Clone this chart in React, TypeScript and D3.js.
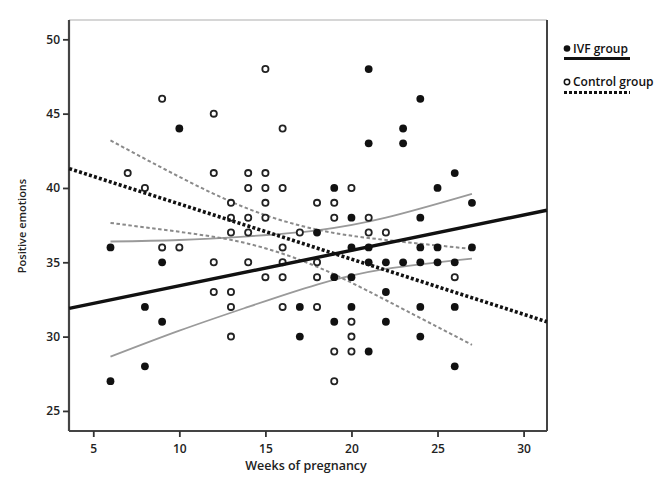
import React, { useEffect, useRef } from 'react';
import * as d3 from 'd3';

// IVF group (filled dots)
const ivfWeeks = [6, 6, 8, 8, 9, 9, 10, 17, 17, 18, 19, 19, 19, 20, 20, 20, 20, 21, 21, 21, 21, 21, 22, 22, 22, 23, 23, 23, 24, 24, 24, 24, 24, 24, 25, 25, 25, 26, 26, 26, 26, 27, 27];
const ivfScores = [36, 27, 32, 28, 35, 31, 44, 32, 30, 37, 40, 34, 31, 38, 36, 34, 32, 48, 43, 36, 35, 29, 35, 33, 31, 44, 43, 35, 46, 38, 36, 35, 32, 30, 40, 36, 35, 41, 35, 32, 28, 39, 36];

// control group (open dots)
const controlWeeks = [7, 8, 9, 9, 10, 12, 12, 12, 12, 13, 13, 13, 13, 13, 13, 14, 14, 14, 14, 14, 15, 15, 15, 15, 15, 15, 16, 16, 16, 16, 16, 16, 17, 18, 18, 18, 18, 19, 19, 19, 19, 20, 20, 20, 20, 21, 21, 22, 26];
const controlScores = [41, 40, 46, 36, 36, 45, 41, 35, 33, 39, 38, 37, 33, 32, 30, 41, 40, 38, 37, 35, 48, 41, 40, 39, 38, 34, 44, 40, 36, 35, 34, 32, 37, 39, 35, 34, 32, 39, 38, 29, 27, 40, 31, 30, 29, 38, 37, 37, 34];

// fit lines, read at the plot edges
const fitWeeks = [3.6, 31.35];
const ivfFit = [31.9, 38.5];
const controlFit = [41.3, 31.0];

// confidence bands
const bandWeeks = [6, 10, 14, 18, 22, 27];
const ivfUpper = [36.4, 36.5, 36.75, 37.15, 38.0, 39.6];
const ivfLower = [28.65, 30.4, 32.0, 33.5, 34.55, 35.25];
const controlUpper = [43.2, 40.75, 38.6, 37.2, 36.5, 35.9];
const controlLower = [37.65, 37.05, 36.25, 34.7, 32.45, 29.45];

const xTicks = [5, 10, 15, 20, 25, 30];
const yTicks = [25, 30, 35, 40, 45, 50];

const font = '"Open Sans", "DejaVu Sans", sans-serif';

const App = () => {
  const svgRef = useRef<SVGSVGElement>(null);

  useEffect(() => {
    const svg = d3.select(svgRef.current);
    svg.selectAll('*').remove();

    const left = 69, right = 547, top = 20, bottom = 431;
    const x = d3.scaleLinear().domain([3.59, 31.36]).range([left, right]);
    const y = d3.scaleLinear().domain([23.65, 51.3]).range([bottom, top]);

    // frame
    svg.append('line').attr('x1', left).attr('x2', right).attr('y1', top).attr('y2', top)
      .attr('stroke', '#c8c8c8').attr('stroke-width', 1.5);
    svg.append('line').attr('x1', right).attr('x2', right).attr('y1', top).attr('y2', bottom)
      .attr('stroke', '#444').attr('stroke-width', 2);

    // axes
    const xAxis = svg.append('g')
      .attr('transform', `translate(0,${bottom})`)
      .call(d3.axisBottom(x).tickValues(xTicks).tickSize(6).tickSizeOuter(0));
    const yAxis = svg.append('g')
      .attr('transform', `translate(${left},0)`)
      .call(d3.axisLeft(y).tickValues(yTicks).tickSize(6).tickSizeOuter(0));
    [xAxis, yAxis].forEach(a => {
      a.select('.domain').attr('stroke', '#444').attr('stroke-width', 2.2);
      a.selectAll('.tick line').attr('stroke', '#333').attr('stroke-width', 1.8);
      a.selectAll('.tick text')
        .attr('fill', '#222')
        .style('font-family', font)
        .style('font-size', '12px')
        .style('font-weight', 600);
    });
    xAxis.selectAll('.tick text').attr('dy', '1.1em');
    xAxis.select('.domain').attr('d', `M${left},0H${right}`);
    yAxis.select('.domain').attr('d', `M0,${top}V${bottom}`);

    // axis titles
    svg.append('text')
      .attr('x', 306).attr('y', 470)
      .attr('text-anchor', 'middle')
      .style('font-family', font).style('font-size', '12.5px').style('font-weight', 600)
      .attr('fill', '#222')
      .text('Weeks of pregnancy');
    svg.append('text')
      .attr('transform', 'translate(26,226) rotate(-90)')
      .attr('text-anchor', 'middle')
      .style('font-family', font).style('font-size', '11px').style('font-weight', 600)
      .attr('fill', '#222')
      .text('Positive emotions');

    const band = d3.line<number>()
      .x((_, i) => x(bandWeeks[i]))
      .y(d => y(d))
      .curve(d3.curveNatural);

    // IVF confidence band (grey solid)
    [ivfUpper, ivfLower].forEach(vals => {
      svg.append('path').datum(vals)
        .attr('fill', 'none').attr('stroke', '#9a9a9a').attr('stroke-width', 1.8)
        .attr('d', band);
    });
    // control confidence band (grey dashed)
    [controlUpper, controlLower].forEach(vals => {
      svg.append('path').datum(vals)
        .attr('fill', 'none').attr('stroke', '#8a8a8a').attr('stroke-width', 2)
        .attr('stroke-dasharray', '3.5,2.5')
        .attr('d', band);
    });

    const fit = d3.line<number>()
      .x((_, i) => x(fitWeeks[i]))
      .y(d => y(d));

    // points
    controlWeeks.forEach((w, i) => {
      svg.append('circle')
        .attr('cx', x(w)).attr('cy', y(controlScores[i])).attr('r', 3.1)
        .attr('fill', 'white').attr('stroke', '#222').attr('stroke-width', 1.8);
    });
    ivfWeeks.forEach((w, i) => {
      svg.append('circle')
        .attr('cx', x(w)).attr('cy', y(ivfScores[i])).attr('r', 3.9)
        .attr('fill', '#111');
    });

    // fit lines
    svg.append('path').datum(ivfFit)
      .attr('fill', 'none').attr('stroke', '#111').attr('stroke-width', 3.4)
      .attr('d', fit);
    svg.append('path').datum(controlFit)
      .attr('fill', 'none').attr('stroke', '#111').attr('stroke-width', 3.6)
      .attr('stroke-dasharray', '3,2.2')
      .attr('d', fit);

    // legend
    const lg = svg.append('g');
    lg.append('circle').attr('cx', 567).attr('cy', 48.5).attr('r', 3.3).attr('fill', '#111');
    lg.append('text').attr('x', 573).attr('y', 52.5)
      .style('font-family', font).style('font-size', '12px').style('font-weight', 600)
      .attr('fill', '#111').text('IVF group');
    lg.append('line').attr('x1', 564).attr('x2', 630).attr('y1', 58.5).attr('y2', 58.5)
      .attr('stroke', '#111').attr('stroke-width', 3);
    lg.append('circle').attr('cx', 567).attr('cy', 82).attr('r', 2.7)
      .attr('fill', 'white').attr('stroke', '#111').attr('stroke-width', 1.5);
    lg.append('text').attr('x', 573).attr('y', 86)
      .style('font-family', font).style('font-size', '12px').style('font-weight', 600)
      .attr('fill', '#111').text('Control group');
    lg.append('line').attr('x1', 564).attr('x2', 630).attr('y1', 92.5).attr('y2', 92.5)
      .attr('stroke', '#111').attr('stroke-width', 3)
      .attr('stroke-dasharray', '3,2');
  }, []);

  return (
    <svg ref={svgRef} width={669} height={487}
      style={{ position: 'absolute', left: 0, top: 0, background: 'white' }} />
  );
};

export default App;
